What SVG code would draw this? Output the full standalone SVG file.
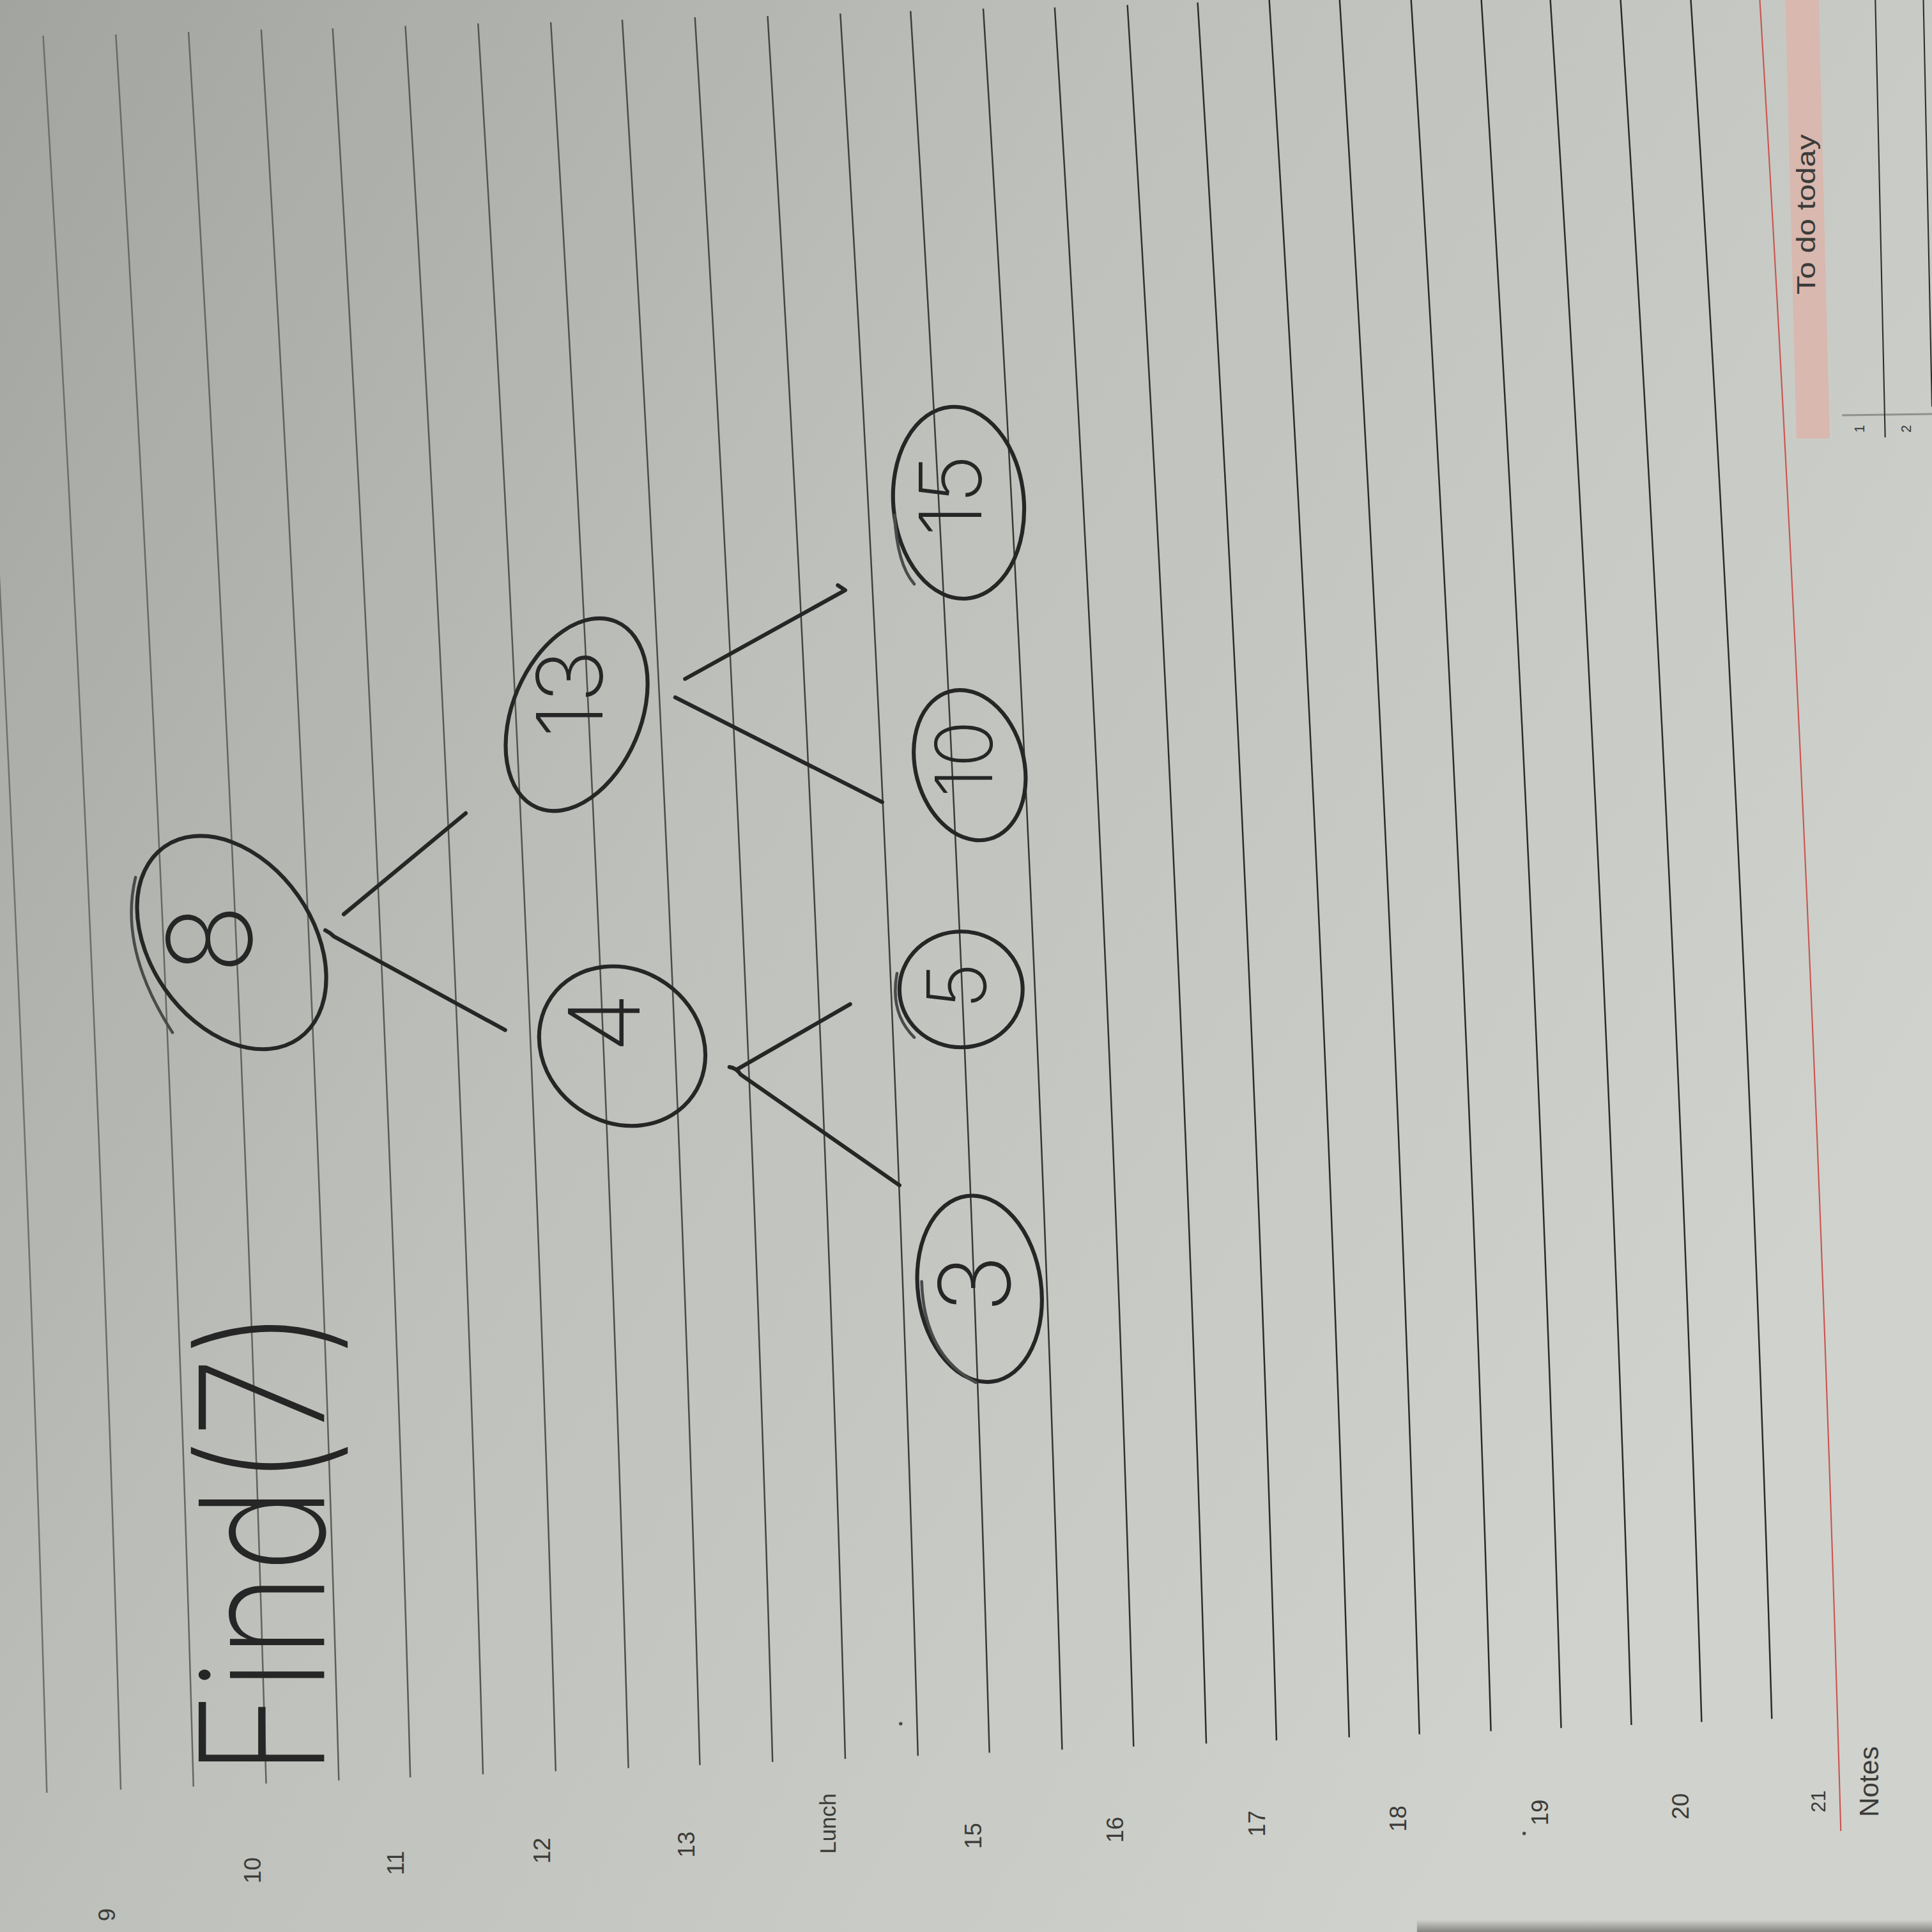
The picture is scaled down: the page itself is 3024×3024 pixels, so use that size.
<svg xmlns="http://www.w3.org/2000/svg" width="3024" height="3024" viewBox="0 0 3024 3024">
  <defs>
    <linearGradient id="paper" gradientUnits="userSpaceOnUse" x1="0" y1="0" x2="1568" y2="900">
      <stop offset="0" stop-color="#a2a49f"/>
      <stop offset="0.45" stop-color="#bec0bb"/>
      <stop offset="1" stop-color="#d0d2cd"/>
    </linearGradient>
    <linearGradient id="ruleInk" gradientUnits="userSpaceOnUse" x1="0" y1="0" x2="1000" y2="0">
      <stop offset="0" stop-color="#6f716c"/>
      <stop offset="1" stop-color="#2b2c29"/>
    </linearGradient>
    <linearGradient id="cornerShade" gradientUnits="userSpaceOnUse" x1="0" y1="1558" x2="0" y2="1568">
      <stop offset="0" stop-color="#3a3836" stop-opacity="0"/>
      <stop offset="1" stop-color="#3a3836" stop-opacity="0.5"/>
    </linearGradient>
    <style>
      .rule { fill: none; stroke: url(#ruleInk); stroke-width: 1.3; }
      .print { font-family: "Liberation Sans", "DejaVu Sans", sans-serif; fill: #3b3c39; }
      .ink { fill: none; stroke: #262626; stroke-width: 3.2; stroke-linecap: round; stroke-linejoin: round; }
      .ink-soft { fill: none; stroke: #4a4a4a; stroke-width: 2.4; stroke-linecap: round; }
      .hand { font-family: Inter, Roboto, "Open Sans", "DejaVu Sans", sans-serif; font-weight: 200; fill: #262626; text-anchor: middle; dominant-baseline: central; }
    </style>
  </defs>

  <g transform="scale(1.928571)">
    <!-- paper -->
    <rect x="0" y="0" width="1568" height="1568" fill="url(#paper)"/>
    <rect x="1150" y="1558" width="418" height="10" fill="url(#cornerShade)"/>

    <!-- ruled half-hour lines, slightly bowed by the page curve -->
    <g id="rules">
      <path class="rule" d="M-25 31 Q18.5 743 38 1455"/>
      <path class="rule" d="M35 29 Q78.5 741 98 1452.5"/>
      <path class="rule" d="M94 28 Q137.5 739 157 1450"/>
      <path class="rule" d="M153 26 Q196.5 737 216 1447.5"/>
      <path class="rule" d="M212 24 Q255.5 735 275 1445"/>
      <path class="rule" d="M270 23 Q313.5 733 333 1442.5"/>
      <path class="rule" d="M329 21 Q372.5 731 392 1440"/>
      <path class="rule" d="M388 19 Q431.5 728 451 1437.5"/>
      <path class="rule" d="M447 18 Q490.5 727 510 1435"/>
      <path class="rule" d="M505 16 Q548.5 724 568 1432.5"/>
      <path class="rule" d="M564 14 Q607.5 722 627 1430"/>
      <path class="rule" d="M623 13 Q666.5 720 686 1427.5"/>
      <path class="rule" d="M682 11 Q725.5 718 745 1425"/>
      <path class="rule" d="M739 9 Q783 716 803 1422.5"/>
      <path class="rule" d="M798 7 Q842 714 862 1420"/>
      <path class="rule" d="M856 6 Q900 712 920 1417.5"/>
      <path class="rule" d="M915 4 Q959 710 979 1415"/>
      <path class="rule" d="M972 2 Q1016 707 1036 1412.5"/>
      <path class="rule" d="M1030 -2 Q1074.5 704 1095 1410"/>
      <path class="rule" d="M1087 -4 Q1131.5 702 1152 1407.5"/>
      <path class="rule" d="M1145 -4 Q1189.5 701 1210 1405"/>
      <path class="rule" d="M1202 -4 Q1246.5 700 1267 1402.5"/>
      <path class="rule" d="M1258 -4 Q1303 699 1324 1400"/>
      <path class="rule" d="M1315 -4 Q1360 698 1381 1397.5"/>
      <path class="rule" d="M1372 -4 Q1417 696 1438 1395"/>
    </g>

    <!-- right-hand column: margin, "To do today" band, list -->
    <g id="todo-column">
      <path d="M1428 -4 Q1473 740 1494 1486" fill="none" stroke="#c9554f" stroke-width="1.1"/>
      <polygon points="1449,0 1476,0 1485,356 1458,356" fill="#d9b8af"/>
      <text class="print" transform="translate(1466 174) rotate(-90)" font-size="21" text-anchor="middle" dominant-baseline="central" textLength="130" lengthAdjust="spacingAndGlyphs">To do today</text>
      <line x1="1495" y1="337" x2="1568" y2="336" stroke="#8f918c" stroke-width="1.6"/>
      <line x1="1522" y1="0" x2="1530" y2="355" stroke="#2f302d" stroke-width="1.1"/>
      <line x1="1561" y1="0" x2="1568" y2="330" stroke="#2f302d" stroke-width="1.1"/>
      <text class="print" transform="translate(1509 348) rotate(-90)" font-size="11" text-anchor="middle" dominant-baseline="central">1</text>
      <text class="print" transform="translate(1547 348) rotate(-90)" font-size="11" text-anchor="middle" dominant-baseline="central">2</text>
    </g>

    <!-- printed hour labels -->
    <g id="hours" font-size="19">
      <text class="print" transform="translate(87 1554) rotate(-90)" text-anchor="middle" dominant-baseline="central">9</text>
      <text class="print" transform="translate(205 1518) rotate(-90)" text-anchor="middle" dominant-baseline="central">10</text>
      <text class="print" transform="translate(321 1512) rotate(-90)" text-anchor="middle" dominant-baseline="central">11</text>
      <text class="print" transform="translate(440 1502) rotate(-90)" text-anchor="middle" dominant-baseline="central">12</text>
      <text class="print" transform="translate(557 1497) rotate(-90)" text-anchor="middle" dominant-baseline="central">13</text>
      <text class="print" transform="translate(672 1480) rotate(-90)" text-anchor="middle" dominant-baseline="central" font-size="18">Lunch</text>
      <text class="print" transform="translate(790 1490) rotate(-90)" text-anchor="middle" dominant-baseline="central">15</text>
      <text class="print" transform="translate(905 1485) rotate(-90)" text-anchor="middle" dominant-baseline="central">16</text>
      <text class="print" transform="translate(1020 1480) rotate(-90)" text-anchor="middle" dominant-baseline="central">17</text>
      <text class="print" transform="translate(1135 1476) rotate(-90)" text-anchor="middle" dominant-baseline="central">18</text>
      <text class="print" transform="translate(1250 1471) rotate(-90)" text-anchor="middle" dominant-baseline="central">19</text>
      <text class="print" transform="translate(1364 1466) rotate(-90)" text-anchor="middle" dominant-baseline="central">20</text>
      <text class="print" transform="translate(1476 1462) rotate(-90)" text-anchor="middle" dominant-baseline="central" font-size="16">21</text>
      <text class="print" transform="translate(1517 1446) rotate(-90)" text-anchor="middle" dominant-baseline="central" font-size="22">Notes</text>
      <circle cx="731" cy="1399" r="1.4" fill="#4a4b48"/>
      <circle cx="1237" cy="1488" r="1.4" fill="#4a4b48"/>
    </g>

    <!-- handwritten heading -->
    <g id="heading">
      <text class="hand" transform="translate(212 1252) rotate(-90)" font-size="140" textLength="380" lengthAdjust="spacingAndGlyphs">Find(7)</text>
    </g>

    <!-- tree edges -->
    <g id="connectors">
      <path class="ink" d="M279 742 L378 660"/>
      <path class="ink" d="M264 755 Q268 757 271 760 L410 836"/>
      <path class="ink" d="M556 551 L686 479 L680 475"/>
      <path class="ink" d="M548 566 L716 651"/>
      <path class="ink" d="M598 868 L690 815"/>
      <path class="ink" d="M592 866 Q598 867 601 872 L730 962"/>
    </g>

    <!-- tree nodes -->
    <g id="node-8">
      <ellipse class="ink" cx="188" cy="765" rx="95" ry="66" transform="rotate(55 188 765)"/>
      <path class="ink-soft" d="M110 712 Q96 770 140 838"/>
      <text class="hand" transform="translate(170 762) rotate(-90)" font-size="95">8</text>
    </g>
    <g id="node-13">
      <ellipse class="ink" cx="468" cy="580" rx="52" ry="82" transform="rotate(23 468 580)"/>
      <text class="hand" transform="translate(462 563) rotate(-90)" font-size="74">13</text>
    </g>
    <g id="node-4">
      <ellipse class="ink" cx="505" cy="849" rx="70" ry="62" transform="rotate(35 505 849)"/>
      <text class="hand" transform="translate(490 830) rotate(-90)" font-size="80">4</text>
    </g>
    <g id="node-5">
      <ellipse class="ink" cx="780" cy="803" rx="50" ry="47"/>
      <path class="ink-soft" d="M728 790 Q722 822 742 842"/>
      <text class="hand" transform="translate(776 800) rotate(-90)" font-size="66">5</text>
    </g>
    <g id="node-3">
      <ellipse class="ink" cx="795" cy="1046" rx="50" ry="76" transform="rotate(-8 795 1046)"/>
      <path class="ink-soft" d="M748 1040 Q750 1100 792 1122"/>
      <text class="hand" transform="translate(791 1042) rotate(-90)" font-size="80">3</text>
    </g>
    <g id="node-10">
      <ellipse class="ink" cx="787" cy="621" rx="44" ry="62" transform="rotate(-15 787 621)"/>
      <text class="hand" transform="translate(782 616) rotate(-90)" font-size="64">10</text>
    </g>
    <g id="node-15">
      <ellipse class="ink" cx="778" cy="408" rx="53" ry="78" transform="rotate(-5 778 408)"/>
      <path class="ink-soft" d="M726 418 Q728 458 742 474"/>
      <text class="hand" transform="translate(771 402) rotate(-90)" font-size="70">15</text>
    </g>
  </g>
</svg>
